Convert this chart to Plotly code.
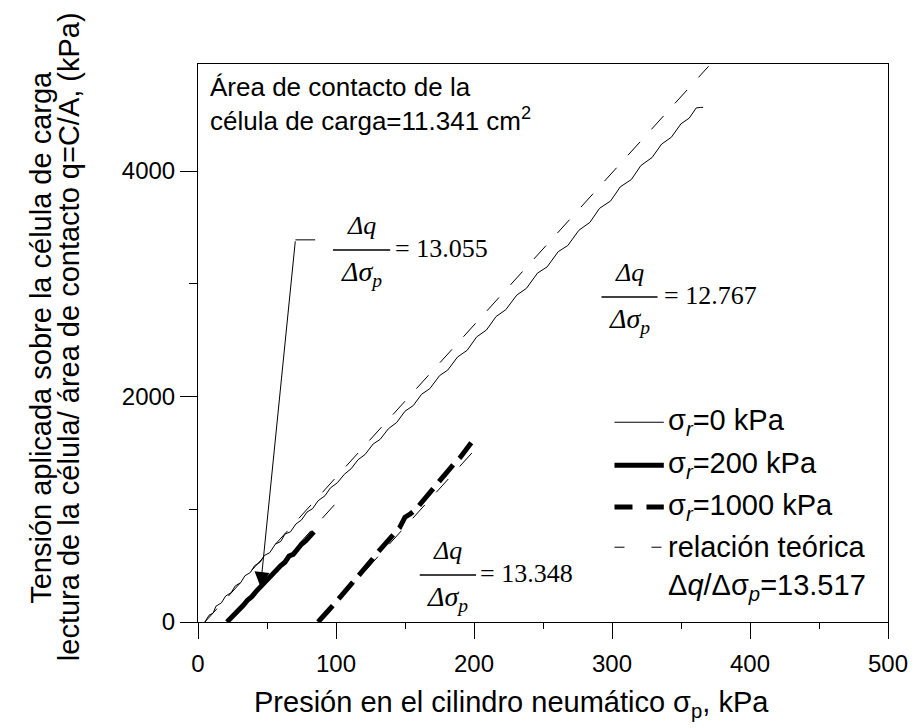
import plotly.graph_objects as go

# ---------------- data ----------------
sr0_x = [5, 8, 11, 13, 17, 20, 24, 27, 31, 34, 38, 41, 45, 48, 52, 56, 60, 63, 67, 71, 75, 79,
         83, 87, 92, 96, 101, 106, 111, 116, 121, 127, 132, 138, 144, 150, 156, 162, 168, 175,
         181, 188, 195, 202, 209, 216, 223, 231, 238, 246, 253, 261, 268, 276, 284, 291, 299,
         306, 314, 321, 329, 336, 343, 350, 356, 361, 364, 366]
sr0_q = [0, 60, 80, 140, 170, 230, 260, 320, 350, 410, 440, 500, 530, 590, 615, 690, 715, 780,
         800, 870, 905, 975, 1005, 1075, 1120, 1190, 1235, 1310, 1360, 1440, 1485, 1580, 1620,
         1715, 1770, 1870, 1920, 2020, 2070, 2185, 2235, 2350, 2410, 2530, 2590, 2710, 2770,
         2900, 2960, 3095, 3150, 3285, 3340, 3475, 3545, 3670, 3735, 3860, 3925, 4050, 4120,
         4240, 4300, 4420, 4470, 4560, 4565, 4565]

sr200_x = [21, 24, 27, 30, 33, 36, 39, 42, 45, 48, 51, 54, 57, 60, 63, 66, 69, 72, 75, 78, 81, 84]
sr200_q = [0, 35, 75, 120, 150, 195, 225, 270, 310, 340, 385, 415, 460, 500, 530, 585, 600, 650,
           690, 720, 765, 800]

sr1000_x = [87, 90, 94, 98, 102, 106, 110, 114, 118, 122, 126, 130, 134, 138, 142, 146, 150, 154,
            158, 162, 166, 170, 174, 178, 182, 186, 190, 194, 198]
sr1000_q = [0, 35, 95, 150, 205, 265, 320, 380, 435, 495, 550, 615, 665, 720, 780, 835, 930, 960,
            1000, 1060, 1120, 1180, 1240, 1300, 1350, 1410, 1460, 1520, 1590]

# theoretical relation Δq/Δσp = 13.517, one line per test
theory0_x = [5, 370]
theory0_q = [0, 4930]
theory200_x = [22, 100]
theory200_q = [0, 1055]
theory1000_x = [87.5, 200]
theory1000_q = [0, 1520]

x_ticks = [0, 100, 200, 300, 400, 500]
y_ticks = [0, 2000, 4000]

slopes = ["13.055", "12.767", "13.348"]
legend_labels = ["σ<sub><i>r</i></sub>=0 kPa", "σ<sub><i>r</i></sub>=200 kPa",
                 "σ<sub><i>r</i></sub>=1000 kPa", "relación teórica",
                 "Δ<i>q</i>/Δσ<sub><i>p</i></sub>=13.517"]

FONT = "Liberation Sans, Arial, sans-serif"
SERIF = "Liberation Serif, Times New Roman, serif"

styles = [dict(width=1, dash="solid"), dict(width=5, dash="solid"),
          dict(width=5, dash="18px,14px"), dict(width=1, dash="10px,27px")]

fig = go.Figure()
fig.add_trace(go.Scatter(x=sr0_x, y=sr0_q, mode="lines", showlegend=False,
                         line=dict(color="black", width=1)))
fig.add_trace(go.Scatter(x=sr200_x, y=sr200_q, mode="lines", showlegend=False,
                         line=dict(color="black", width=5)))
fig.add_trace(go.Scatter(x=sr1000_x, y=sr1000_q, mode="lines", showlegend=False,
                         line=dict(color="black", width=5, dash="22px,9px")))
for tx, tq in [(theory0_x, theory0_q), (theory200_x, theory200_q), (theory1000_x, theory1000_q)]:
    fig.add_trace(go.Scatter(x=tx, y=tq, mode="lines", showlegend=False,
                             line=dict(color="black", width=1, dash="18px,17px")))

annotations = []
shapes = []

# top-left text
annotations.append(dict(x=0.015, y=0.99, xref="paper", yref="paper", xanchor="left", yanchor="top",
                        align="left", showarrow=False,
                        text="Área de contacto de la<br>célula de carga=11.341 cm<sup>2</sup>",
                        font=dict(family=FONT, size=26, color="black")))

# fractions: (bar x0, bar x1, bar y, numerator y, denominator y, eq x, eq y)
fracs = [
    (97.8, 139.3, 3301, 3520, 3090, 141.5, 3310),
    (292.4, 333.0, 2884, 3100, 2675, 336.0, 2895),
    (160.7, 201.5, 417, 635, 205, 203.0, 430),
]
for (bx0, bx1, by, ny, dy, ex, ey), s in zip(fracs, slopes):
    cx = (bx0 + bx1) / 2
    shapes.append(dict(type="line", xref="x", yref="y", x0=bx0, x1=bx1, y0=by, y1=by,
                       line=dict(color="black", width=1.5)))
    annotations.append(dict(x=cx, y=ny, xref="x", yref="y", showarrow=False,
                            text="<i>Δq</i>", font=dict(family=SERIF, size=26, color="black")))
    annotations.append(dict(x=cx, y=dy, xref="x", yref="y", showarrow=False,
                            text="<i>Δσ<sub>p</sub></i>", font=dict(family=SERIF, size=28, color="black")))
    annotations.append(dict(x=ex, y=ey, xref="x", yref="y", showarrow=False, xanchor="left",
                            text="= " + s, font=dict(family=SERIF, size=26, color="black")))

# arrow to the σr=200 curve
annotations.append(dict(x=45.3, y=310, ax=70.6, ay=3390, xref="x", yref="y", axref="x", ayref="y",
                        showarrow=True, arrowhead=2, arrowsize=3, arrowwidth=1, arrowcolor="black",
                        text=""))
shapes.append(dict(type="line", xref="x", yref="y", x0=70.6, x1=84.9, y0=3390, y1=3390,
                   line=dict(color="black", width=1)))

# manual legend (paper coordinates)
row_y = [0.358, 0.281, 0.206, 0.134, 0.063]
lx0, lx1, ltx = 0.6036, 0.6751, 0.678
for i, lab in enumerate(legend_labels):
    if i < len(styles):
        shapes.append(dict(type="line", xref="paper", yref="paper", x0=lx0, x1=lx1,
                           y0=row_y[i], y1=row_y[i],
                           line=dict(color="black", width=styles[i]["width"], dash=styles[i]["dash"])))
    annotations.append(dict(x=ltx, y=row_y[i], xref="paper", yref="paper", xanchor="left",
                            yanchor="middle", showarrow=False, text=lab,
                            font=dict(family=FONT, size=29, color="black")))

# axis titles
annotations.append(dict(x=-0.2276, y=0.511, xref="paper", yref="paper", showarrow=False, textangle=-90,
                        xanchor="center", yanchor="middle",
                        text="Tensión aplicada sobre la célula de carga",
                        font=dict(family=FONT, size=29, color="black")))
annotations.append(dict(x=-0.1865, y=0.511, xref="paper", yref="paper", showarrow=False, textangle=-90,
                        xanchor="center", yanchor="middle",
                        text="lectura de la célula/ área de contacto q=C/A, (kPa)",
                        font=dict(family=FONT, size=29, color="black")))
annotations.append(dict(x=0.455, y=-0.147, xref="paper", yref="paper", showarrow=False,
                        xanchor="center", yanchor="middle",
                        text="Presión en el cilindro neumático σ<sub>p</sub>, kPa",
                        font=dict(family=FONT, size=29, color="black")))

fig.update_layout(
    width=920, height=728,
    margin=dict(l=198, r=23, t=64, b=106),
    paper_bgcolor="white", plot_bgcolor="white",
    font=dict(family=FONT, size=24, color="black"),
    showlegend=False,
    annotations=annotations, shapes=shapes,
)
fig.update_xaxes(range=[0, 500], tickvals=x_ticks, ticks="outside", ticklen=16, tickwidth=1,
                 tickcolor="black", showline=True, linecolor="black", linewidth=1, mirror=True,
                 showgrid=False, zeroline=False, tickfont=dict(family=FONT, size=24),
                 ticklabelstandoff=4,
                 minor=dict(dtick=50, ticks="outside", ticklen=6, tickcolor="black", showgrid=False))
fig.update_yaxes(range=[0, 4950], tickvals=y_ticks, ticks="outside", ticklen=17, tickwidth=1,
                 tickcolor="black", showline=True, linecolor="black", linewidth=1, mirror=True,
                 showgrid=False, zeroline=False, tickfont=dict(family=FONT, size=24),
                 minor=dict(dtick=1000, ticks="outside", ticklen=8, tickcolor="black", showgrid=False))

fig.write_html("out.html")
